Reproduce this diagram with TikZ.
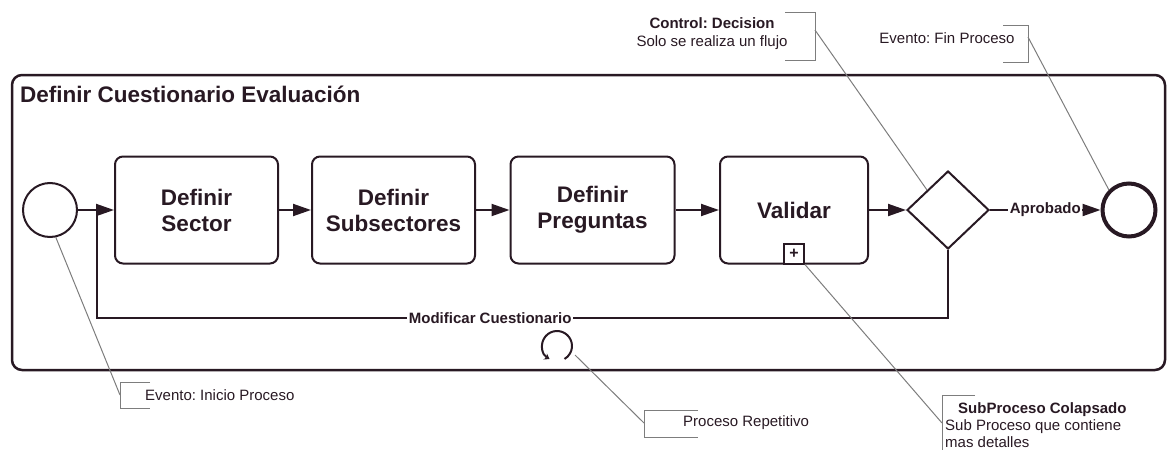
\documentclass[tikz,border=0pt]{standalone}
\usepackage{fontspec}
\setmainfont{Liberation Sans}
\usetikzlibrary{arrows.meta,shapes.geometric}
\definecolor{ink}{RGB}{40,25,35}
\definecolor{notegray}{RGB}{125,125,125}
\frenchspacing
\begin{document}
\begin{tikzpicture}[x=1pt,y=-1pt,
  every node/.style={text=ink},
  taskbox/.style={draw=ink, line width=2pt, rounded corners=8pt, minimum height=107pt,
    align=center, inner sep=0pt, font=\fontsize{22.5}{26}\selectfont\bfseries},
  seqline/.style={draw=ink, line width=2pt},
  seqflow/.style={seqline, -{Triangle[length=18pt,width=12pt]}},
  noteline/.style={draw=notegray, line width=1pt},
  notetext/.style={inner sep=0pt, font=\fontsize{15}{18}\selectfont},
  flowlabel/.style={fill=white, inner sep=1.5pt, font=\fontsize{15}{18}\selectfont\bfseries}
]
\useasboundingbox (0,0) rectangle (1168,450);

% process container and its title
\node[draw=ink, line width=2.5pt, rounded corners=10pt, minimum width=1153pt,
      minimum height=295pt, inner sep=0pt] (frame) at (588.5,222.5) {};
\node[anchor=west, inner sep=0pt, font=\fontsize{22.5}{25}\selectfont\bfseries] (title)
  at (20,94) {Definir Cuestionario Evaluación};

% events, tasks and gateway
\node[circle, draw=ink, line width=2pt, minimum size=54pt, inner sep=0pt] (start) at (50,210) {};
\node[taskbox, minimum width=163pt] (t1) at (196.5,210) {Definir\\Sector};
\node[taskbox, minimum width=163pt] (t2) at (393.5,210) {Definir\\Subsectores};
\node[taskbox, minimum width=164pt] (t3) at (592.5,210) {Definir\\Preguntas};
\node[taskbox, minimum width=148pt] (t4) at (794,210) {Validar};
\node[draw=ink, line width=1.8pt, fill=white, minimum size=20pt, inner sep=0pt, anchor=south,
      font=\fontsize{16}{16}\selectfont\bfseries] (plus) at (t4.south) {+};
\node[diamond, draw=ink, line width=2pt, minimum width=82pt, minimum height=78pt,
      inner sep=0pt] (gw) at (948,210) {};
\node[circle, draw=ink, line width=4pt, minimum size=53pt, inner sep=0pt] (end) at (1129,210) {};

% sequence flows
\coordinate (join) at (97,210);
\coordinate (back) at (97,318);
\draw[seqflow] (start) -- (t1);
\draw[seqflow] (t1) -- (t2);
\draw[seqflow] (t2) -- (t3);
\draw[seqflow] (t3) -- (t4);
\draw[seqflow] (t4) -- (gw);
\draw[seqflow] (gw) -- node[flowlabel] {Aprobado} (end);
\draw[seqline] (gw.south) |- node[flowlabel, pos=0.769] {Modificar Cuestionario} (back) -- (join);

% loop marker
\coordinate (loop) at (557,346);
\draw[ink, line width=2pt, {Stealth[length=5pt,width=7pt]}-] (loop) ++(240:15pt)
  arc[start angle=240, end angle=-60, radius=15pt];

% annotations
\node[notetext, align=center] (ctrltxt) at (712,34)
  {\textbf{Control: Decision}\\Solo se realiza un flujo};
\coordinate (ctrlb) at (815,30);
\draw[noteline] (785,12) -- (815,12) -- (815,60) -- (785,60);
\draw[noteline] (ctrlb) -- (gw.north west);

\node[notetext] (fintxt) at (947,38) {Evento: Fin Proceso};
\coordinate (finb) at (1028,37);
\draw[noteline] (1003,25) -- (1028,25) -- (1028,62) -- (1003,62);
\draw[noteline] (finb) -- (end.north west);

\node[notetext, anchor=west] (initxt) at (145,395) {Evento: Inicio Proceso};
\coordinate (inib) at (120,395);
\draw[noteline] (150,382) -- (120,382) -- (120,408) -- (150,408);
\draw[noteline] (start.282) -- (inib);

\node[notetext, anchor=west] (reptxt) at (683,423) {Proceso Repetitivo};
\coordinate (repb) at (644,423);
\coordinate (loopnote) at (575,355);
\draw[noteline] (698,410) -- (644,410) -- (644,437) -- (698,437);
\draw[noteline] (loopnote) -- (repb);

\node[notetext, anchor=west, align=left, font=\fontsize{15}{17}\selectfont] (subtxt) at (945,425)
  {\hspace*{13pt}\textbf{SubProceso Colapsado}\\Sub Proceso que contiene\\mas detalles};
\coordinate (subb) at (942,423);
\draw[noteline] (975,395) -- (942,395) -- (942,452);
\draw[noteline] (plus.south east) -- (subb);
\end{tikzpicture}
\end{document}
